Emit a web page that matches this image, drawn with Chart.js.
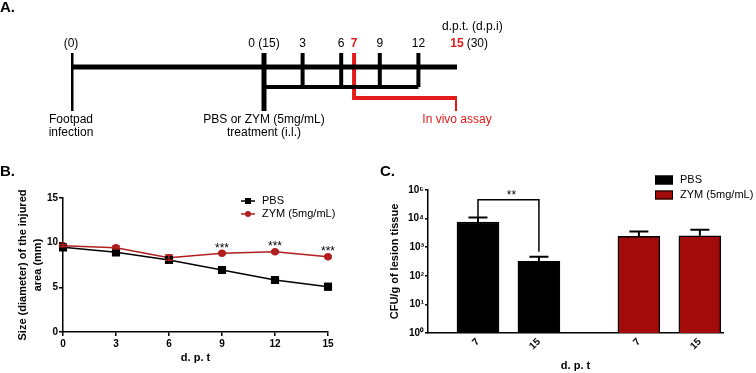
<!DOCTYPE html>
<html>
<head>
<meta charset="utf-8">
<script src="https://cdn.jsdelivr.net/npm/chart.js@4"></script>
<style>
  html, body { margin: 0; padding: 0; background: #fff; }
  #wrap { position: relative; width: 756px; height: 373px; overflow: hidden; }
  canvas { position: absolute; }
</style>
</head>
<body>
<div id="wrap">
  <canvas id="timeline" width="756" height="165" style="left:0;top:0"></canvas>
  <canvas id="lesion" width="380" height="208" style="left:0;top:165px"></canvas>
  <canvas id="cfu" width="376" height="208" style="left:380px;top:165px"></canvas>
</div>
<script>
const FONT = "'Liberation Sans', Arial, Helvetica, sans-serif";
const RED_LINE = "#b01e1e";
const RED_BAR = "#a30b0b";
const RED_TIMELINE = "#e31b1b";

// A. timeline, in days post treatment (d.p.i. = d.p.t. + 15)
const infectionDay = -15;
const treatmentDay = 0;
const checkDays = [3, 6, 9, 12];
const assayDays = [7, 15];
const dpiOffset = 15;

// B. lesion size (mm), mean and SEM
const lesionDays = [0, 3, 6, 9, 12, 15];
const pbsSize = [9.48, 8.92, 8.06, 6.94, 5.82, 5.07];
const pbsSizeSem = [0.15, 0.2, 0.2, 0.3, 0.3, 0.35];
const zymSize = [9.66, 9.44, 8.32, 8.81, 8.99, 8.43];
const zymSizeSem = [0.12, 0.15, 0.3, 0.1, 0.1, 0.1];
const lesionSigDays = [9, 12, 15];

// C. CFU per g of lesion tissue, mean and SEM
const cfuDays = ["7", "15"];
const pbsCfu = [7600, 320];
const pbsCfuSem = [3400, 140];
const zymCfu = [2400, 2500];
const zymCfuSem = [1150, 1600];
const cfuLogTicks = [1, 10, 100, 1000, 10000, 100000];
const cfuSigLevel = 46000;

const SUP = ["\u2070", "\u00b9", "\u00b2", "\u00b3", "\u2074", "\u2075"];

// ---------- A. timeline ----------
// vertical rows of the schematic (y scale runs top to bottom)
const ROW = { header: 27, label: 44, top: 53, main: 67, sub: 87, assay: 98, bottom: 111, note1: 120, note2: 133 };

const timelineSets = [];
function addLine(points, color, width) {
  timelineSets.push({
    data: points,
    showLine: true,
    borderColor: color,
    borderWidth: width,
    pointRadius: 0,
    borderCapStyle: "butt",
    borderJoinStyle: "miter",
    tension: 0,
  });
}
const lastAssay = assayDays[assayDays.length - 1];
addLine([{ x: infectionDay, y: ROW.main }, { x: lastAssay, y: ROW.main }], "#000", 5);
addLine([{ x: treatmentDay, y: ROW.sub }, { x: checkDays[checkDays.length - 1], y: ROW.sub }], "#000", 4);
[infectionDay, treatmentDay].forEach((d) =>
  addLine([{ x: d, y: ROW.top }, { x: d, y: ROW.bottom }], "#000", 5)
);
checkDays.forEach((d) => addLine([{ x: d, y: ROW.top }, { x: d, y: ROW.sub }], "#000", 4));
addLine(
  [
    { x: assayDays[0], y: ROW.top },
    { x: assayDays[0], y: ROW.assay },
    { x: lastAssay, y: ROW.assay },
    { x: lastAssay, y: ROW.bottom },
  ],
  RED_TIMELINE,
  4
);

const timelineText = {
  id: "timelineText",
  afterDatasetsDraw(chart) {
    const { ctx, scales: { x, y } } = chart;
    const px = (d) => x.getPixelForValue(d);
    const py = (v) => y.getPixelForValue(v);
    ctx.save();
    ctx.textBaseline = "middle";
    ctx.textAlign = "center";
    ctx.fillStyle = "#000";
    ctx.font = `12px ${FONT}`;
    ctx.fillText(`(${infectionDay + dpiOffset})`, px(infectionDay), py(ROW.label));
    ctx.fillText(`${treatmentDay} (${treatmentDay + dpiOffset})`, px(treatmentDay), py(ROW.label));
    checkDays.forEach((d) => ctx.fillText(String(d), px(d), py(ROW.label)));

    ctx.font = `bold 12px ${FONT}`;
    ctx.fillStyle = RED_TIMELINE;
    assayDays.forEach((d) => ctx.fillText(String(d), px(d), py(ROW.label)));
    const w = ctx.measureText(String(lastAssay)).width;

    ctx.font = `12px ${FONT}`;
    ctx.fillStyle = "#000";
    ctx.textAlign = "left";
    ctx.fillText(`(${lastAssay + dpiOffset})`, px(lastAssay) + w / 2 + 3, py(ROW.label));
    ctx.fillText("d.p.t. (d.p.i)", px(lastAssay) - 15, py(ROW.header));

    ctx.textAlign = "center";
    ctx.fillText("Footpad", px(infectionDay), py(ROW.note1));
    ctx.fillText("infection", px(infectionDay), py(ROW.note2));
    ctx.fillText("PBS or ZYM (5mg/mL)", px(treatmentDay), py(ROW.note1));
    ctx.fillText("treatment (i.l.)", px(treatmentDay), py(ROW.note2));
    ctx.fillStyle = RED_TIMELINE;
    ctx.fillText("In vivo assay", px(lastAssay), py(ROW.note1));

    ctx.fillStyle = "#000";
    ctx.font = `bold 15px ${FONT}`;
    ctx.textAlign = "left";
    ctx.fillText("A.", 0, 8);
    ctx.restore();
  },
};

new Chart(document.getElementById("timeline"), {
  type: "scatter",
  data: { datasets: timelineSets },
  plugins: [timelineText],
  options: {
    responsive: false,
    animation: false,
    layout: { padding: { left: 71, right: 299, top: 0, bottom: 0 } },
    scales: {
      x: { type: "linear", min: infectionDay, max: lastAssay, display: false },
      y: { type: "linear", min: 0, max: 165, reverse: true, display: false },
    },
    plugins: { legend: { display: false }, tooltip: { enabled: false } },
  },
});

// ---------- B. lesion size ----------
const tickFont = { family: FONT, weight: "bold", size: 10 };
const titleFont = { family: FONT, weight: "bold", size: 11 };

const lesionExtras = {
  id: "lesionExtras",
  afterDatasetsDraw(chart) {
    const { ctx, scales: { x, y } } = chart;
    ctx.save();
    chart.data.datasets.forEach((ds) => {
      ctx.strokeStyle = ds.borderColor;
      ctx.lineWidth = 1.5;
      ds.data.forEach((p, i) => {
        const e = ds.sem[i];
        const cx = x.getPixelForValue(p.x);
        const yt = y.getPixelForValue(p.y + e);
        const yb = y.getPixelForValue(p.y - e);
        ctx.beginPath();
        ctx.moveTo(cx, yt);
        ctx.lineTo(cx, yb);
        ctx.moveTo(cx - 4, yt);
        ctx.lineTo(cx + 4, yt);
        ctx.moveTo(cx - 4, yb);
        ctx.lineTo(cx + 4, yb);
        ctx.stroke();
      });
    });

    ctx.fillStyle = "#000";
    ctx.font = `12px ${FONT}`;
    ctx.textAlign = "center";
    ctx.textBaseline = "middle";
    lesionSigDays.forEach((d) => {
      const i = lesionDays.indexOf(d);
      ctx.fillText("***", x.getPixelForValue(d), y.getPixelForValue(zymSize[i]) - 5);
    });

    // legend
    ctx.font = `11px ${FONT}`;
    ctx.textAlign = "left";
    chart.data.datasets.forEach((ds, i) => {
      const ly = 36 + i * 13;
      ctx.strokeStyle = ds.borderColor;
      ctx.fillStyle = ds.borderColor;
      ctx.lineWidth = 1.5;
      ctx.beginPath();
      ctx.moveTo(241, ly);
      ctx.lineTo(255, ly);
      ctx.stroke();
      ctx.beginPath();
      if (ds.pointStyle === "rect") ctx.rect(245, ly - 3, 6, 6);
      else ctx.arc(248, ly, 3, 0, Math.PI * 2);
      ctx.fill();
      ctx.fillStyle = "#000";
      ctx.fillText(ds.label, 262, ly);
    });

    ctx.font = `bold 15px ${FONT}`;
    ctx.fillText("B.", 0, 7);
    ctx.restore();
  },
};

new Chart(document.getElementById("lesion"), {
  type: "line",
  data: {
    datasets: [
      {
        label: "PBS",
        data: lesionDays.map((d, i) => ({ x: d, y: pbsSize[i] })),
        sem: pbsSizeSem,
        borderColor: "#000",
        backgroundColor: "#000",
        borderWidth: 1.5,
        pointStyle: "rect",
        pointRadius: 4.7,
        tension: 0,
        clip: false,
      },
      {
        label: "ZYM (5mg/mL)",
        data: lesionDays.map((d, i) => ({ x: d, y: zymSize[i] })),
        sem: zymSizeSem,
        borderColor: RED_LINE,
        backgroundColor: RED_LINE,
        borderWidth: 1.5,
        pointStyle: "circle",
        pointRadius: 3,
        tension: 0,
        clip: false,
      },
    ],
  },
  plugins: [lesionExtras],
  options: {
    responsive: false,
    animation: false,
    layout: { padding: { left: 0, right: 52, top: 33, bottom: 0 } },
    plugins: { legend: { display: false }, tooltip: { enabled: false } },
    scales: {
      x: {
        type: "linear",
        min: 0,
        max: 15,
        ticks: { stepSize: 3, color: "#000", font: tickFont, padding: 2, maxRotation: 0 },
        grid: { drawOnChartArea: false, tickLength: 4, color: "#000", lineWidth: 1.5 },
        border: { color: "#000", width: 1.5 },
        title: { display: true, text: "d. p. t", color: "#000", font: titleFont, padding: { top: 0, bottom: 8 } },
        afterFit: (s) => { s.height = 41; },
      },
      y: {
        type: "linear",
        min: 0,
        max: 15,
        ticks: { stepSize: 5, color: "#000", font: tickFont, padding: 1 },
        grid: { drawOnChartArea: false, tickLength: 4, color: "#000", lineWidth: 1.5 },
        border: { color: "#000", width: 1.5 },
        title: {
          display: true,
          text: ["Size (diameter) of the injured", "area (mm)"],
          color: "#000",
          font: { family: FONT, weight: "bold", size: 11, lineHeight: 1.35 },
          padding: { top: 16, bottom: 0 },
        },
        afterFit: (s) => { s.width = 63; },
      },
    },
  },
});

// ---------- C. CFU ----------
const groupStride = 2.64;
const barPositions = [0, 1, groupStride, groupStride + 1];

const cfuExtras = {
  id: "cfuExtras",
  afterDatasetsDraw(chart) {
    const { ctx, scales: { x, y } } = chart;
    ctx.save();
    ctx.strokeStyle = "#000";
    ctx.lineWidth = 2;
    chart.data.datasets.forEach((ds) => {
      ds.data.forEach((p, i) => {
        const cx = x.getPixelForValue(p.x);
        const yTop = y.getPixelForValue(p.y + ds.sem[i]);
        ctx.beginPath();
        ctx.moveTo(cx, y.getPixelForValue(p.y));
        ctx.lineTo(cx, yTop);
        ctx.moveTo(cx - 9.5, yTop);
        ctx.lineTo(cx + 9.5, yTop);
        ctx.stroke();
      });
    });

    // significance bracket between PBS day 7 and day 15
    const x0 = x.getPixelForValue(0);
    const x1 = x.getPixelForValue(1);
    const yb = y.getPixelForValue(cfuSigLevel);
    ctx.lineWidth = 1.5;
    ctx.beginPath();
    ctx.moveTo(x0, y.getPixelForValue(pbsCfu[0] + pbsCfuSem[0]));
    ctx.lineTo(x0, yb);
    ctx.lineTo(x1, yb);
    ctx.lineTo(x1, y.getPixelForValue(pbsCfu[1] + pbsCfuSem[1]) - 5);
    ctx.stroke();
    ctx.fillStyle = "#000";
    ctx.font = `12px ${FONT}`;
    ctx.textAlign = "center";
    ctx.textBaseline = "middle";
    ctx.fillText("**", (x0 + x1) / 2 + 3, yb - 4);

    // legend
    ctx.font = `11px ${FONT}`;
    ctx.textAlign = "left";
    chart.data.datasets.forEach((ds, i) => {
      const ly = 15 + i * 15;
      ctx.fillStyle = ds.backgroundColor;
      ctx.fillRect(275, ly - 4.5, 18, 9);
      ctx.strokeStyle = "#000";
      ctx.lineWidth = 1;
      ctx.strokeRect(275.5, ly - 4, 17, 8);
      ctx.fillStyle = "#000";
      ctx.fillText(ds.label, 300, ly);
    });

    ctx.font = `bold 15px ${FONT}`;
    ctx.fillText("C.", 0, 7);
    ctx.restore();
  },
};

new Chart(document.getElementById("cfu"), {
  type: "bar",
  data: {
    datasets: [
      {
        label: "PBS",
        data: pbsCfu.map((v, i) => ({ x: barPositions[i], y: v })),
        sem: pbsCfuSem,
        backgroundColor: "#000",
        borderColor: "#000",
        borderWidth: 1.5,
      },
      {
        label: "ZYM (5mg/mL)",
        data: zymCfu.map((v, i) => ({ x: barPositions[i + 2], y: v })),
        sem: zymCfuSem,
        backgroundColor: RED_BAR,
        borderColor: "#000",
        borderWidth: 1.5,
      },
    ],
  },
  plugins: [cfuExtras],
  options: {
    responsive: false,
    animation: false,
    layout: { padding: { left: 0, right: 33, top: 25, bottom: 0 } },
    datasets: { bar: { barThickness: 42, grouped: false } },
    plugins: { legend: { display: false }, tooltip: { enabled: false } },
    scales: {
      x: {
        type: "linear",
        offset: false,
        min: -0.82,
        max: groupStride + 1.38,
        afterBuildTicks: (s) => { s.ticks = barPositions.map((v) => ({ value: v })); },
        ticks: {
          callback: (v, i) => cfuDays[i % cfuDays.length],
          minRotation: 45,
          maxRotation: 45,
          color: "#000",
          font: tickFont,
          padding: 3,
        },
        grid: { drawOnChartArea: false, drawTicks: false },
        border: { color: "#000", width: 1.5 },
        title: { display: true, text: "d. p. t", color: "#000", font: titleFont, padding: { top: 0, bottom: 0 } },
        afterFit: (s) => { s.height = 40; },
      },
      y: {
        type: "logarithmic",
        min: 1,
        max: 100000,
        afterBuildTicks: (s) => { s.ticks = cfuLogTicks.map((v) => ({ value: v })); },
        ticks: {
          callback: (v) => "10" + SUP[Math.round(Math.log10(v))],
          color: "#000",
          font: tickFont,
          padding: 1,
        },
        grid: { drawOnChartArea: false, tickLength: 3, color: "#000", lineWidth: 1.5 },
        border: { color: "#000", width: 1.5 },
        title: {
          display: true,
          text: "CFU/g of lesion tissue",
          color: "#000",
          font: titleFont,
          padding: { top: 8, bottom: 0 },
        },
        afterFit: (s) => { s.width = 48; },
      },
    },
  },
});
</script>
</body>
</html>
